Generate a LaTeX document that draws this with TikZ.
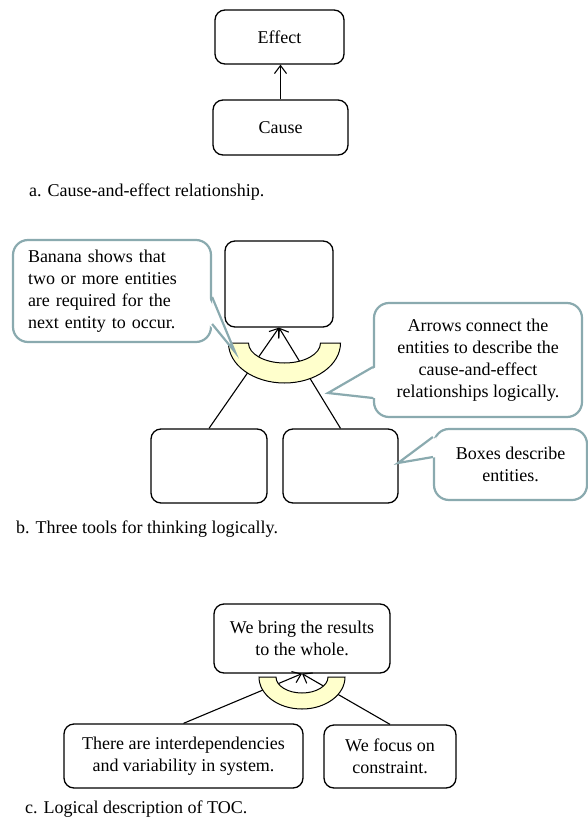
\documentclass[tikz,border=0pt]{standalone}
\usepackage{fontspec}
\setmainfont{Liberation Serif}
\usetikzlibrary{arrows.meta}
\definecolor{notec}{RGB}{138,170,175}
\definecolor{bananac}{RGB}{255,255,204}
\begin{document}
\begin{tikzpicture}[x=1pt,y=-1pt,
  every node/.style={font=\fontsize{18}{22}\selectfont, inner sep=0pt},
  entity/.style={draw, line width=1.3pt, rounded corners=10pt, fill=white, align=center},
  note/.style={draw=notec, line width=2.2pt, rounded corners=15pt, fill=white},
  pointer/.style={draw=notec, line width=2.2pt, line join=miter},
  link/.style={line width=1.1pt, -{Straight Barb[length=8pt,width=12pt,line width=1.1pt]}},
  banana/.style={draw, line width=1pt, fill=bananac},
  caption/.style={anchor=base west}]
\useasboundingbox (0,0) rectangle (588,819);

% ---- a. cause and effect ----
\node[entity, minimum width=129pt, minimum height=54pt] (effect) at (279.5,37) {Effect};
\node[entity, minimum width=135pt, minimum height=55pt] (cause) at (280.5,127.5) {Cause};
\draw[link] (cause.north) -- (cause.north |- effect.south);
\node[caption] (capa) at (29,196) {a. Cause-and-effect relationship.};

% ---- b. three thinking tools ----
\node[entity, minimum width=108pt, minimum height=86pt] (res) at (279,284) {};
\node[entity, minimum width=116pt, minimum height=74pt] (ca) at (209,466) {};
\node[entity, minimum width=115pt, minimum height=74pt] (cb) at (340.5,466) {};
\draw[link] (ca.north) -- (res.south);
\draw[link] (cb.north) -- (res.south);
\path[banana] (228.5,343) arc[start angle=180,end angle=360,x radius=56pt,y radius=40pt]
  -- (320.5,343) arc[start angle=0,end angle=-180,x radius=36pt,y radius=20pt] -- cycle;

% callout: banana
\node[note, minimum width=198pt, minimum height=102pt, text width=168pt, align=left] (why) at (112,291)
  {Banana shows that\\two or more entities\\are required for the\\next entity to occur.};
\coordinate (whytip) at (235,352);
\fill[white] (208.5,297) -- (whytip) -- (208.5,324) -- cycle;
\draw[pointer] (why.east |- 0,297) -- (whytip) -- (why.east |- 0,324);

% callout: arrows
\node[note, minimum width=208pt, minimum height=114pt, align=center] (how) at (478,360)
  {Arrows connect the\\entities to describe the\\cause-and-effect\\relationships logically.};
\coordinate (howtip) at (328,393);
\fill[white] (376.5,367) -- (howtip) -- (376.5,398) -- cycle;
\draw[pointer] (how.west |- 0,367) -- (howtip) -- (how.west |- 0,398);

% callout: boxes
\node[note, minimum width=153pt, minimum height=71pt, align=center] (what) at (510.5,464.5)
  {Boxes describe\\entities.};
\coordinate (whattip) at (398,463);
\fill[white] (436.5,437) -- (whattip) -- (436.5,457) -- cycle;
\draw[pointer] (what.west |- 0,437) -- (whattip) -- (what.west |- 0,457);

\node[caption] (capb) at (16,533) {b. Three tools for thinking logically.};

% ---- c. logical description of TOC ----
\node[entity, minimum width=176pt, minimum height=69pt] (whole) at (302,638.5)
  {We bring the results\\to the whole.};
\node[entity, minimum width=239pt, minimum height=64pt] (inter) at (183.5,756)
  {There are interdependencies\\and variability in system.};
\node[entity, minimum width=132pt, minimum height=63pt] (focus) at (390,756.5)
  {We focus on\\constraint.};
\draw[link] (inter.north) -- (whole.south);
\draw[link] (focus.north) -- (whole.south);
\path[banana] (259,677) arc[start angle=180,end angle=360,x radius=43pt,y radius=32pt]
  -- (328,677) arc[start angle=0,end angle=-180,x radius=26pt,y radius=16pt] -- cycle;

\node[caption] (capc) at (25,813) {c. Logical description of TOC.};
\end{tikzpicture}
\end{document}
